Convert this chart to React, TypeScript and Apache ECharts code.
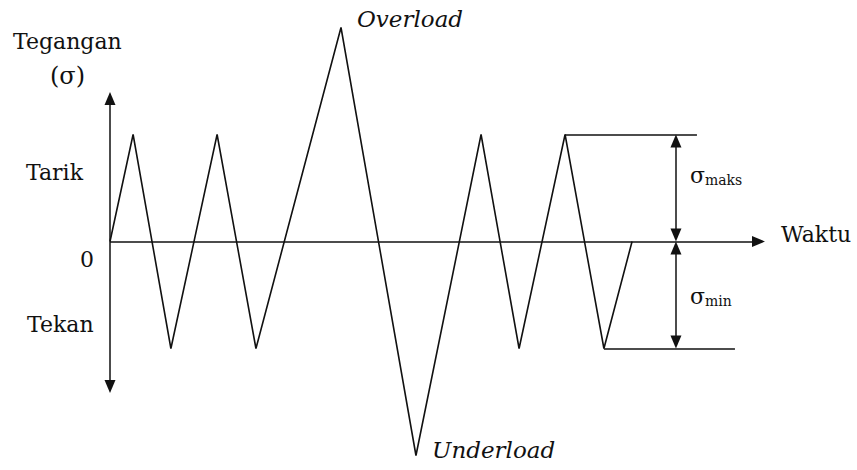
import React, { useEffect, useRef } from "react";
import * as echarts from "echarts";

// Time (arbitrary units) and stress (in units of sigma_maks)
const times = [0, 1.1, 2.9, 5.1, 6.95, 11, 14.57, 17.67, 19.48, 21.67, 23.52, 24.86];
const stress = [0, 1, -1, 1, -1, 2, -2, 1, -1, 1, -1, 0];

const axisYTop = 1.336;
const axisYBottom = -1.355;
const axisXEnd = 30.88;
const sigmaArrowT = 26.95;
const arrowInset = 0.061;
const maxRefLine = [21.67, 27.95];
const minRefLine = [23.52, 29.76];
const sigmaMax = 1;
const sigmaMin = -1;

export default function App() {
  const ref = useRef<HTMLDivElement>(null);
  useEffect(() => {
    document.body.style.margin = "0";
    if (!ref.current) return;
    const chart = echarts.init(ref.current, null, { renderer: "svg" });
    const black = "#111";
    const arrowSize: [number, number] = [11, 13];
    const seg = (a: number[], b: number[], s1: string, s2: string) => [
      { coord: a, symbol: s1, symbolSize: arrowSize },
      { coord: b, symbol: s2, symbolSize: arrowSize },
    ];
    const DS = "DejaVu Serif";
    const txt = (text: string, left: number, top: number, size: number, italic = false) => {
      const style: any = { text, fontFamily: DS, fontSize: size, fill: black };
      if (italic) style.fontStyle = "italic";
      return { type: "text", left, top, style };
    };
    chart.setOption({
      animation: false,
      grid: { left: 110, top: 6.1, width: 735, height: 460.1 },
      xAxis: { type: "value", min: 0, max: 35, show: false },
      yAxis: { type: "value", min: -2.1, max: 2.2, show: false },
      series: [
        {
          type: "line",
          data: times.map((t, i) => [t, stress[i]]),
          symbol: "none",
          lineStyle: { color: black, width: 1.6 },
          markLine: {
            silent: true,
            animation: false,
            label: { show: false },
            lineStyle: { color: black, width: 1.5, type: "solid" },
            itemStyle: { color: black },
            data: [
              seg([0, axisYBottom], [0, axisYTop], "triangle", "triangle"),
              seg([0, 0], [axisXEnd, 0], "none", "triangle"),
              seg([maxRefLine[0], sigmaMax], [maxRefLine[1], sigmaMax], "none", "none"),
              seg([minRefLine[0], sigmaMin], [minRefLine[1], sigmaMin], "none", "none"),
              seg([sigmaArrowT, arrowInset], [sigmaArrowT, sigmaMax - arrowInset], "triangle", "triangle"),
              seg([sigmaArrowT, sigmaMin + arrowInset], [sigmaArrowT, -arrowInset], "triangle", "triangle"),
            ],
          },
        },
      ],
      graphic: [
        txt("Tegangan", 13, 30, 22),
        txt("(σ)", 50, 64, 24),
        txt("Tarik", 26, 161, 22),
        txt("0", 80, 248, 22),
        txt("Tekan", 27, 313, 22),
        txt("Waktu", 781, 223, 22),
        txt("Overload", 357, 7, 23, true),
        txt("Underload", 432, 438, 23, true),
        txt("σ", 690, 164, 22),
        txt("maks", 705, 173, 14),
        txt("σ", 690, 285, 22),
        txt("min", 705, 294, 14),
      ],
    });
    return () => chart.dispose();
  }, []);
  return <div ref={ref} style={{ width: 857, height: 470 }} />;
}
